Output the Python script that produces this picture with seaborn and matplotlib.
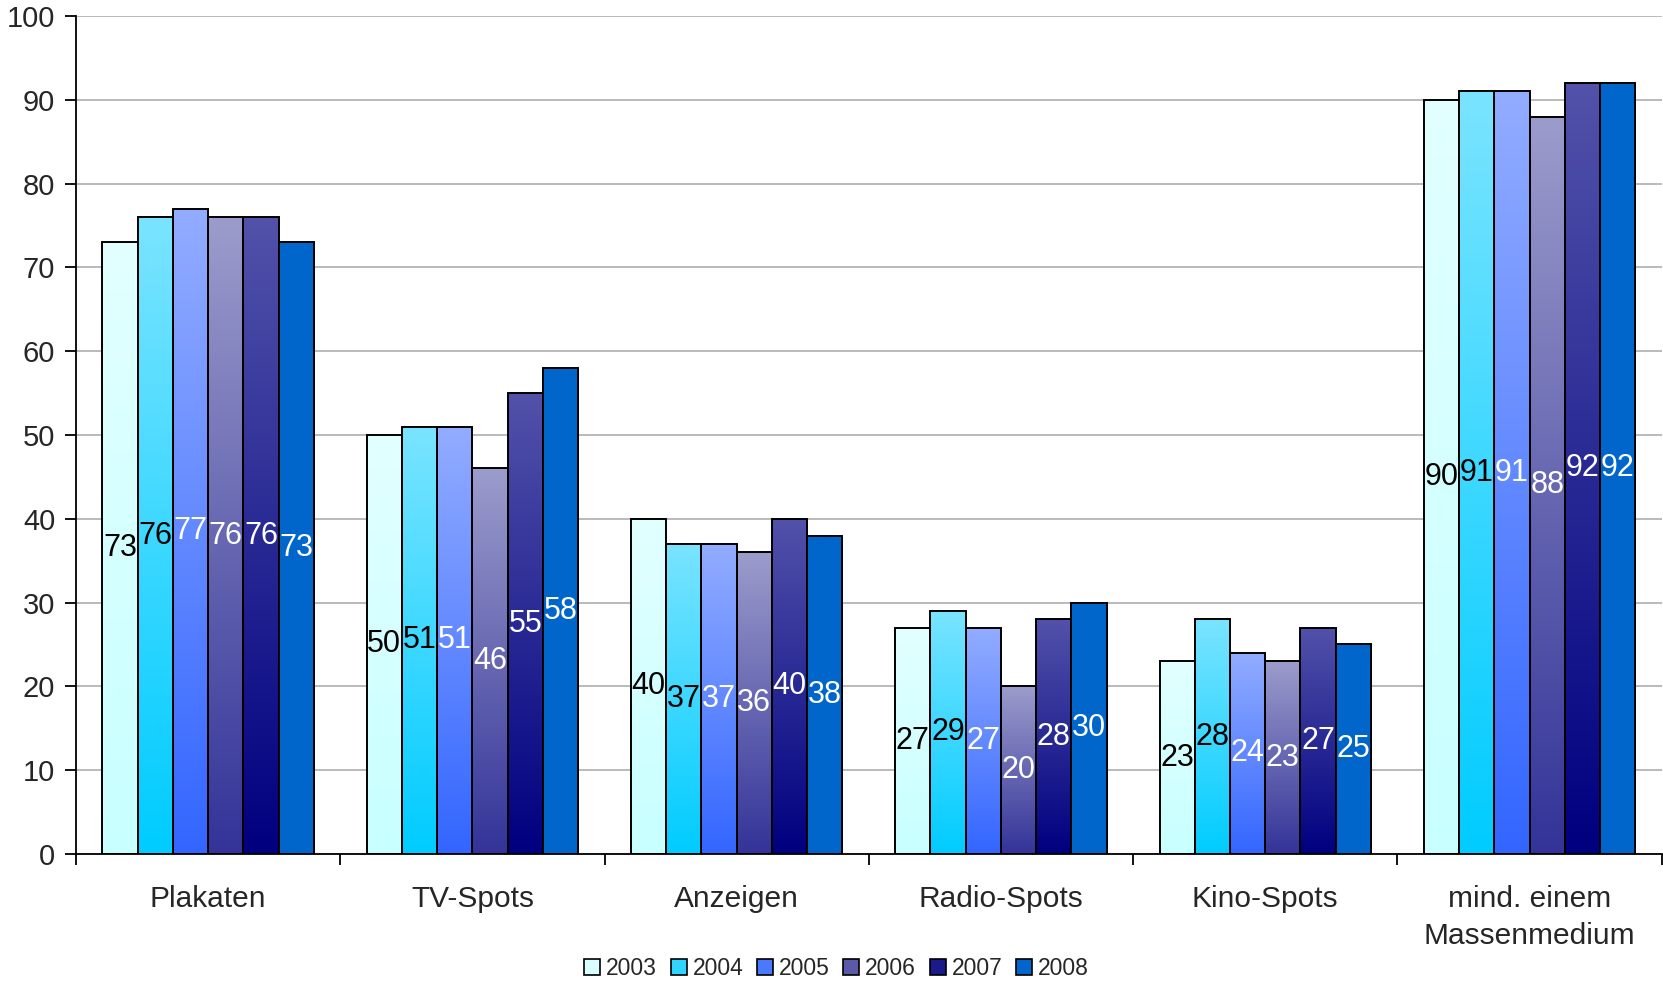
import numpy as np
import pandas as pd
import matplotlib
matplotlib.use("Agg")
import matplotlib.pyplot as plt
from matplotlib.colors import LinearSegmentedColormap
from matplotlib.patches import Patch
import seaborn as sns

# Data
categories = ["Plakaten", "TV-Spots", "Anzeigen", "Radio-Spots", "Kino-Spots", "mind. einem\nMassenmedium"]
years = ["2003", "2004", "2005", "2006", "2007", "2008"]
v2003 = [73, 50, 40, 27, 23, 90]
v2004 = [76, 51, 37, 29, 28, 91]
v2005 = [77, 51, 37, 27, 24, 91]
v2006 = [76, 46, 36, 20, 23, 88]
v2007 = [76, 55, 40, 28, 27, 92]
v2008 = [73, 58, 38, 30, 25, 92]
yticks = [0, 10, 20, 30, 40, 50, 60, 70, 80, 90, 100]

series = [v2003, v2004, v2005, v2006, v2007, v2008]
df = pd.DataFrame(
    [(c, y, v) for y, vals in zip(years, series) for c, v in zip(categories, vals)],
    columns=["Medium", "Jahr", "Wert"],
)

# (top, bottom) colours of the vertical fill gradient per year
grad = {
    "2003": ("#e2ffff", "#c8ffff"),
    "2004": ("#7ae4ff", "#00ccff"),
    "2005": ("#92acff", "#3366ff"),
    "2006": ("#9c9ccc", "#333399"),
    "2007": ("#5252aa", "#000080"),
    "2008": ("#0066cc", "#0066cc"),
}
legend_colors = {"2003": "#d8ffff", "2004": "#30d4ff", "2005": "#4a78ff",
                 "2006": "#5a5aa8", "2007": "#1a1a8a", "2008": "#0066cc"}
text_colors = {"2003": "black", "2004": "black", "2005": "white",
               "2006": "white", "2007": "white", "2008": "white"}

sns.set_theme(style="white")
plt.rcParams["font.family"] = ["Liberation Sans", "DejaVu Sans"]

fig = plt.figure(figsize=(16.63, 9.81), dpi=100)
ax = fig.add_axes([0.0457, 0.1295, 0.9535, 0.8542])

sns.barplot(data=df, x="Medium", y="Wert", hue="Jahr", order=categories,
            hue_order=years, palette=[legend_colors[y] for y in years],
            width=0.8, dodge=True, edgecolor="black", linewidth=1.4,
            errorbar=None, legend=False, ax=ax, zorder=3)

ax.set_xlim(-0.5, len(categories) - 0.5)
ax.set_ylim(0, 100)

# Vertical gradient fills clipped to each bar
for year, cont in zip(years, ax.containers):
    top, bottom = grad[year]
    cmap = LinearSegmentedColormap.from_list("g" + year, [bottom, top])
    for bar in cont.patches:
        x0, w, h = bar.get_x(), bar.get_width(), bar.get_height()
        img = ax.imshow(np.linspace(0, 1, 256).reshape(-1, 1), cmap=cmap,
                        origin="lower", aspect="auto",
                        extent=[x0, x0 + w, 0, h], zorder=3.5,
                        interpolation="bilinear")
        img.set_clip_path(bar)
        bar.set_facecolor("none")
        bar.set_zorder(4)
    ax.bar_label(cont, labels=[f"{v:g}" for v in cont.datavalues],
                 label_type="center", color=text_colors[year], fontsize=22,
                 zorder=5)

ax.set_xlim(-0.5, len(categories) - 0.5)
ax.set_ylim(0, 100)

# Grid and axes styling
ax.set_yticks(yticks)
ax.set_yticklabels([str(t) for t in yticks], fontsize=21)
ax.yaxis.grid(True, color="#b4b4b4", linewidth=1.3, zorder=0)
ax.xaxis.grid(False)
ax.set_axisbelow(True)
for s in ["top", "right"]:
    ax.spines[s].set_visible(False)
for s in ["left", "bottom"]:
    ax.spines[s].set_color("black")
    ax.spines[s].set_linewidth(1.3)
    ax.spines[s].set_zorder(6)
ax.tick_params(axis="y", direction="out", length=8, width=1.3, color="black",
               left=True, pad=7)
ax.set_xticks(range(len(categories)))
ax.set_xticklabels(categories, fontsize=21.5, linespacing=1.42)
ax.set_xticks(np.arange(-0.5, len(categories)), minor=True)
ax.tick_params(axis="x", which="major", length=0, pad=22)
ax.tick_params(axis="x", which="minor", direction="out", length=8, width=1.3,
               color="black", bottom=True)
ax.set_xlabel("")
ax.set_ylabel("")

handles = [Patch(facecolor=legend_colors[y], edgecolor="black", linewidth=1.2, label=y)
           for y in years]
fig.legend(handles=handles, loc="center", bbox_to_anchor=(0.503, 0.0125),
           ncol=6, frameon=False, fontsize=16.5, handlelength=0.7,
           handleheight=0.7, handletextpad=0.25, columnspacing=0.6,
           borderaxespad=0)

fig.savefig("out.png", dpi=100)
